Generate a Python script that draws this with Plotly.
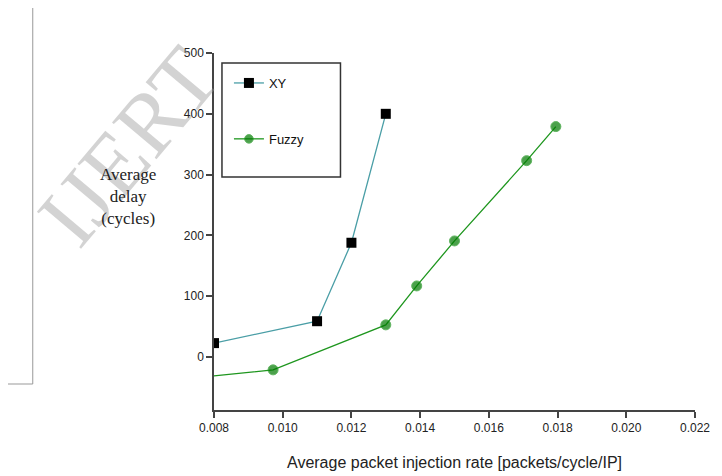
import plotly.graph_objects as go

# Data
xy_rate = [0.008, 0.011, 0.012, 0.013]
xy_delay = [23, 59, 188, 400]

fuzzy_rate = [0.008, 0.00972, 0.0130, 0.0139, 0.0150, 0.0171, 0.01795]
fuzzy_delay = [-31, -21, 53, 117, 191, 323, 379]
fuzzy_marker_size = [0, 10, 10, 10, 10, 10, 10]

x_ticks = [0.008, 0.010, 0.012, 0.014, 0.016, 0.018, 0.020, 0.022]
y_ticks = [0, 100, 200, 300, 400, 500]

# page has an 8px body margin; compensate so the figure lines up with the window
OFF = 8
W, H = 722 - OFF, 476 - OFF
L, T = 214 - OFF, 53 - OFF
PW, PH = 483, 357
R = W - L - PW
B = H - T - PH


def px(x):  # page pixel -> paper x
    return (x - OFF - L) / PW


def py(y):  # page pixel -> paper y
    return (T + PH - (y - OFF)) / PH


fig = go.Figure()
fig.add_trace(go.Scatter(
    x=xy_rate, y=xy_delay, mode="lines+markers", name="XY",
    line=dict(color="#4a9ea6", width=1.3),
    marker=dict(symbol="square", size=10, color="#000000"),
    legendgroup="a",
))
fig.add_trace(go.Scatter(
    x=fuzzy_rate, y=fuzzy_delay, mode="lines+markers", name="Fuzzy",
    line=dict(color="#1e961e", width=1.3),
    marker=dict(symbol="circle", size=fuzzy_marker_size, color="#007a00"),
    legendgroup="b",
))

axis_font = dict(family="Liberation Sans, Arial, sans-serif", size=12, color="#222")
fig.update_xaxes(
    range=[0.008, 0.022], tickvals=x_ticks, tickformat=".3f",
    showgrid=False, zeroline=False, showline=True, linecolor="#444", linewidth=1.5,
    ticks="outside", ticklen=6, tickcolor="#444", tickwidth=1.5, tickfont=axis_font,
)
fig.update_yaxes(
    range=[-87, 500], tickvals=y_ticks,
    showgrid=False, zeroline=False, showline=True, linecolor="#444", linewidth=1.5,
    ticks="outside", ticklen=6, tickcolor="#444", tickwidth=1.5, tickfont=axis_font,
)

# legend box
fig.add_shape(type="rect", xref="paper", yref="paper",
              x0=px(222), x1=px(341), y0=py(177), y1=py(63),
              line=dict(color="#333", width=1.5), fillcolor="rgba(0,0,0,0)")

# page border artifact on the left
fig.add_shape(type="line", xref="paper", yref="paper",
              x0=px(32), x1=px(32), y0=py(0), y1=py(384),
              line=dict(color="#999", width=1))
fig.add_shape(type="line", xref="paper", yref="paper",
              x0=px(0), x1=px(32), y0=py(384), y1=py(384),
              line=dict(color="#999", width=1))

# watermark
fig.add_annotation(text="IJERT", xref="paper", yref="paper",
                   x=px(128), y=py(146), xanchor="center", yanchor="middle",
                   showarrow=False, textangle=-50,
                   font=dict(family="Liberation Serif, Times New Roman, serif",
                             size=88, color="rgba(150,150,150,0.42)"))

# y title
fig.add_annotation(text="Average<br>delay<br>(cycles)", xref="paper", yref="paper",
                   x=px(128), y=py(196), xanchor="center", yanchor="middle",
                   showarrow=False, align="center",
                   font=dict(family="Liberation Serif, Times New Roman, serif",
                             size=17, color="#222"))
# x title
fig.add_annotation(text="Average packet injection rate [packets/cycle/IP]",
                   xref="paper", yref="paper", x=px(455), y=py(463),
                   xanchor="center", yanchor="middle", showarrow=False,
                   font=dict(family="Liberation Sans, Arial, sans-serif",
                             size=16, color="#222"))

fig.update_layout(
    width=W, height=H,
    margin=dict(l=L, r=R, t=T, b=B),
    paper_bgcolor="white", plot_bgcolor="white",
    showlegend=True,
    legend=dict(x=px(229), y=py(68), xanchor="left", yanchor="top",
                bgcolor="rgba(0,0,0,0)", borderwidth=0,
                traceorder="grouped", tracegroupgap=36,
                font=dict(family="Liberation Sans, Arial, sans-serif", size=13, color="#111")),
)

fig.write_html("out.html")
